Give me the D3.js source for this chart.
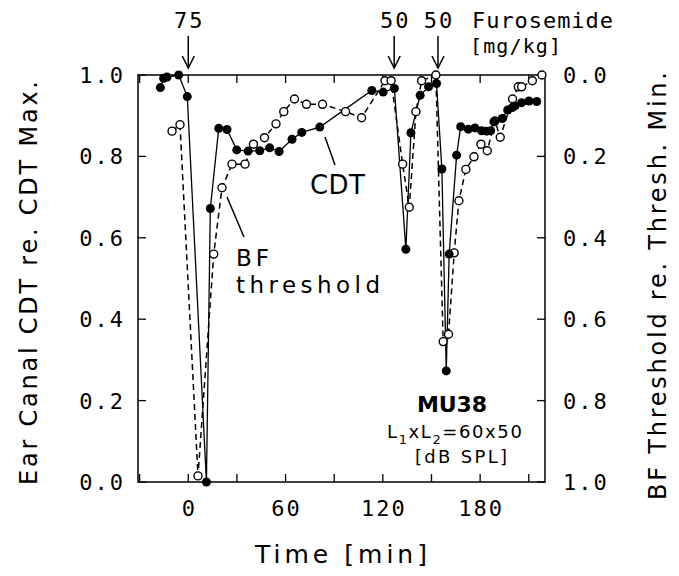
<!DOCTYPE html>
<html>
<head>
<meta charset="utf-8">
<script src="https://cdn.jsdelivr.net/npm/d3@7"></script>
<style>
  body { margin: 0; background: #fff; }
  svg text { font-family: "DejaVu Sans", sans-serif; fill: #000; }
  .tick { font-family: "DejaVu Sans Mono", monospace; font-size: 22px; letter-spacing: 2px; }
</style>
</head>
<body>
<svg width="679" height="576"></svg>
<script>

// CDT (filled, left axis)
let cdtTime = [-17.2, -15.2, -13.1, -5.9, -0.6, 11.2, 13.6, 18.8, 23.9, 29.9, 36.9, 44.1, 50.2, 56.0,
  64.0, 70.0, 81.1, 113.2, 120.2, 127.1, 134.2, 137.3, 143.0, 148.2, 153.1, 156.4, 159.1, 160.9,
  165.5, 168.0, 172.7, 176.8, 180.9, 184.0, 186.5, 188.5, 193.6, 197.0, 199.8, 201.5, 205.6, 210.1, 214.9];
let cdtValue = [0.969, 0.992, 0.995, 1.0, 0.947, 0.0, 0.672, 0.869, 0.866, 0.816, 0.813, 0.814, 0.821, 0.812,
  0.842, 0.859, 0.872, 0.962, 0.958, 0.967, 0.572, 0.858, 0.950, 0.971, 0.979, 0.769, 0.273, 0.560,
  0.803, 0.873, 0.867, 0.870, 0.863, 0.862, 0.863, 0.885, 0.893, 0.914, 0.920, 0.924, 0.932, 0.936, 0.935];

// BF threshold (open, right axis, 0 at top)
let bfTime = [-10.0, -5.1, 6.0, 15.7, 20.8, 27.0, 35.0, 40.2, 47.0, 54.1, 58.9, 65.5, 72.9, 82.8,
  97.0, 106.9, 121.3, 125.1, 132.2, 136.3, 140.4, 143.9, 152.7, 157.2, 160.5, 164.0, 166.9, 171.2,
  176.2, 180.5, 184.4, 189.1, 192.4, 200.0, 203.5, 205.6, 212.2, 218.1];
let bfValue = [0.138, 0.122, 0.985, 0.440, 0.277, 0.219, 0.219, 0.170, 0.154, 0.120, 0.090, 0.059, 0.072, 0.072,
  0.090, 0.105, 0.014, 0.014, 0.219, 0.325, 0.090, 0.014, 0.000, 0.655, 0.637, 0.437, 0.309, 0.232,
  0.201, 0.170, 0.186, 0.113, 0.153, 0.059, 0.029, 0.029, 0.014, 0.000];

// furosemide injections
let doseTime = [0, 127, 154];
let doseLabel = ['75', '50', '50'];

let xTicks = [-30, 0, 30, 60, 90, 120, 150, 180, 210];
let xLabels = [0, 60, 120, 180];
let yTicks = [0, 0.2, 0.4, 0.6, 0.8, 1.0];

let svg = d3.select('svg');
let pLeft = 138, pRight = 545, pTop = 75, pBottom = 482;

let x = d3.scaleLinear().domain([-31, 220]).range([pLeft, pRight]);
let yL = d3.scaleLinear().domain([0, 1]).range([pBottom, pTop]);
let yR = d3.scaleLinear().domain([0, 1]).range([pTop, pBottom]);

// frame
svg.append('rect')
  .attr('x', pLeft).attr('y', pTop)
  .attr('width', pRight - pLeft).attr('height', pBottom - pTop)
  .attr('fill', 'none').attr('stroke', '#000').attr('stroke-width', 1.5);

let tl = 8;
// ticks (inward, all sides)
xTicks.forEach(t => {
  svg.append('line').attr('x1', x(t)).attr('x2', x(t)).attr('y1', pBottom).attr('y2', pBottom - tl).attr('stroke', '#000').attr('stroke-width', 1.3);
  svg.append('line').attr('x1', x(t)).attr('x2', x(t)).attr('y1', pTop).attr('y2', pTop + tl).attr('stroke', '#000').attr('stroke-width', 1.3);
});
yTicks.forEach(v => {
  svg.append('line').attr('x1', pLeft).attr('x2', pLeft + tl).attr('y1', yL(v)).attr('y2', yL(v)).attr('stroke', '#000').attr('stroke-width', 1.3);
  svg.append('line').attr('x1', pRight).attr('x2', pRight - tl).attr('y1', yR(v)).attr('y2', yR(v)).attr('stroke', '#000').attr('stroke-width', 1.3);
});

// tick labels
svg.selectAll('.xl').data(xLabels).enter().append('text')
  .attr('class', 'tick')
  .attr('x', d => x(d) + 1).attr('y', 516)
  .attr('text-anchor', 'middle')
  .text(d => d);
svg.selectAll('.yl').data(yTicks).enter().append('text')
  .attr('class', 'tick')
  .attr('x', 125).attr('y', d => yL(d) + 8)
  .attr('text-anchor', 'end')
  .text(d => d3.format('.1f')(d));
svg.selectAll('.yr').data(yTicks).enter().append('text')
  .attr('class', 'tick')
  .attr('x', 563).attr('y', d => yR(d) + 8)
  .text(d => d3.format('.1f')(d));

// axis titles
svg.append('text')
  .attr('x', 341).attr('y', 563)
  .attr('text-anchor', 'middle')
  .attr('font-size', 25)
  .attr('textLength', 172).attr('lengthAdjust', 'spacing')
  .text('Time [min]');
svg.append('text')
  .attr('transform', 'translate(37,283) rotate(-90)')
  .attr('text-anchor', 'middle')
  .attr('font-size', 24)
  .attr('textLength', 404).attr('lengthAdjust', 'spacing')
  .text('Ear Canal CDT re. CDT Max.');
svg.append('text')
  .attr('transform', 'translate(666,286) rotate(-90)')
  .attr('text-anchor', 'middle')
  .attr('font-size', 24)
  .attr('textLength', 428).attr('lengthAdjust', 'spacing')
  .text('BF Threshold re. Thresh. Min.');

// lines
let cdt = cdtTime.map((t, i) => ({ t: t, v: cdtValue[i] }));
let bf = bfTime.map((t, i) => ({ t: t, v: bfValue[i] }));

svg.append('path').datum(bf)
  .attr('fill', 'none').attr('stroke', '#000').attr('stroke-width', 1.5)
  .attr('stroke-dasharray', '6,4')
  .attr('d', d3.line().x(d => x(d.t)).y(d => yR(d.v)));
svg.append('path').datum(cdt)
  .attr('fill', 'none').attr('stroke', '#000').attr('stroke-width', 1.3)
  .attr('d', d3.line().x(d => x(d.t)).y(d => yL(d.v)));

svg.append('g').selectAll('circle').data(bf).enter().append('circle')
  .attr('cx', d => x(d.t)).attr('cy', d => yR(d.v)).attr('r', 4)
  .attr('fill', '#fff').attr('stroke', '#000').attr('stroke-width', 1.4);
svg.append('g').selectAll('circle').data(cdt).enter().append('circle')
  .attr('cx', d => x(d.t)).attr('cy', d => yL(d.v)).attr('r', 4.5)
  .attr('fill', '#000');

// injection arrows
doseTime.forEach((t, i) => {
  let ax = x(t);
  svg.append('line').attr('x1', ax).attr('x2', ax).attr('y1', 36).attr('y2', 68).attr('stroke', '#000').attr('stroke-width', 1.5);
  svg.append('path').attr('d', `M${ax - 6},56 L${ax},68 L${ax + 6},56`).attr('fill', 'none').attr('stroke', '#000').attr('stroke-width', 1.5);
  svg.append('text').attr('class', 'tick').attr('x', ax + 1).attr('y', 28).attr('text-anchor', 'middle').text(doseLabel[i]);
});
svg.append('text').attr('class', 'tick').attr('x', 472).attr('y', 28)
  .attr('textLength', 143).attr('lengthAdjust', 'spacing').text('Furosemide');
svg.append('text').attr('class', 'tick').attr('x', 470).attr('y', 53).style('font-size', '20px')
  .attr('textLength', 93).attr('lengthAdjust', 'spacing').text('[mg/kg]');

// series labels
svg.append('line').attr('x1', 325).attr('y1', 137).attr('x2', 335).attr('y2', 165).attr('stroke', '#000').attr('stroke-width', 1.5);
svg.append('text').attr('x', 310).attr('y', 194).attr('font-size', 26)
  .attr('textLength', 55).attr('lengthAdjust', 'spacing').text('CDT');
svg.append('line').attr('x1', 227).attr('y1', 197).attr('x2', 244).attr('y2', 237).attr('stroke', '#000').attr('stroke-width', 1.5);
svg.append('text').attr('x', 236).attr('y', 266).attr('font-size', 23)
  .attr('textLength', 33).attr('lengthAdjust', 'spacing').text('BF');
svg.append('text').attr('x', 236).attr('y', 293).attr('font-size', 23)
  .attr('textLength', 144).attr('lengthAdjust', 'spacing').text('threshold');

// subject info
svg.append('text').attr('x', 452).attr('y', 412).attr('text-anchor', 'middle')
  .attr('font-size', 22).attr('font-weight', 'bold')
  .attr('textLength', 70).attr('lengthAdjust', 'spacing').text('MU38');
let lt = svg.append('text').attr('x', 387).attr('y', 438).attr('font-size', 18).style('letter-spacing', '1.6px');
lt.append('tspan').text('L');
lt.append('tspan').attr('font-size', 13).attr('dy', 6).text('1');
lt.append('tspan').attr('dy', -6).text('x');
lt.append('tspan').text('L');
lt.append('tspan').attr('font-size', 13).attr('dy', 6).text('2');
lt.append('tspan').attr('dy', -6).text('=60x50');
svg.append('text').attr('x', 461).attr('y', 463).attr('text-anchor', 'middle').attr('font-size', 18)
  .attr('textLength', 92).attr('lengthAdjust', 'spacing').text('[dB SPL]');

</script>
</body>
</html>
